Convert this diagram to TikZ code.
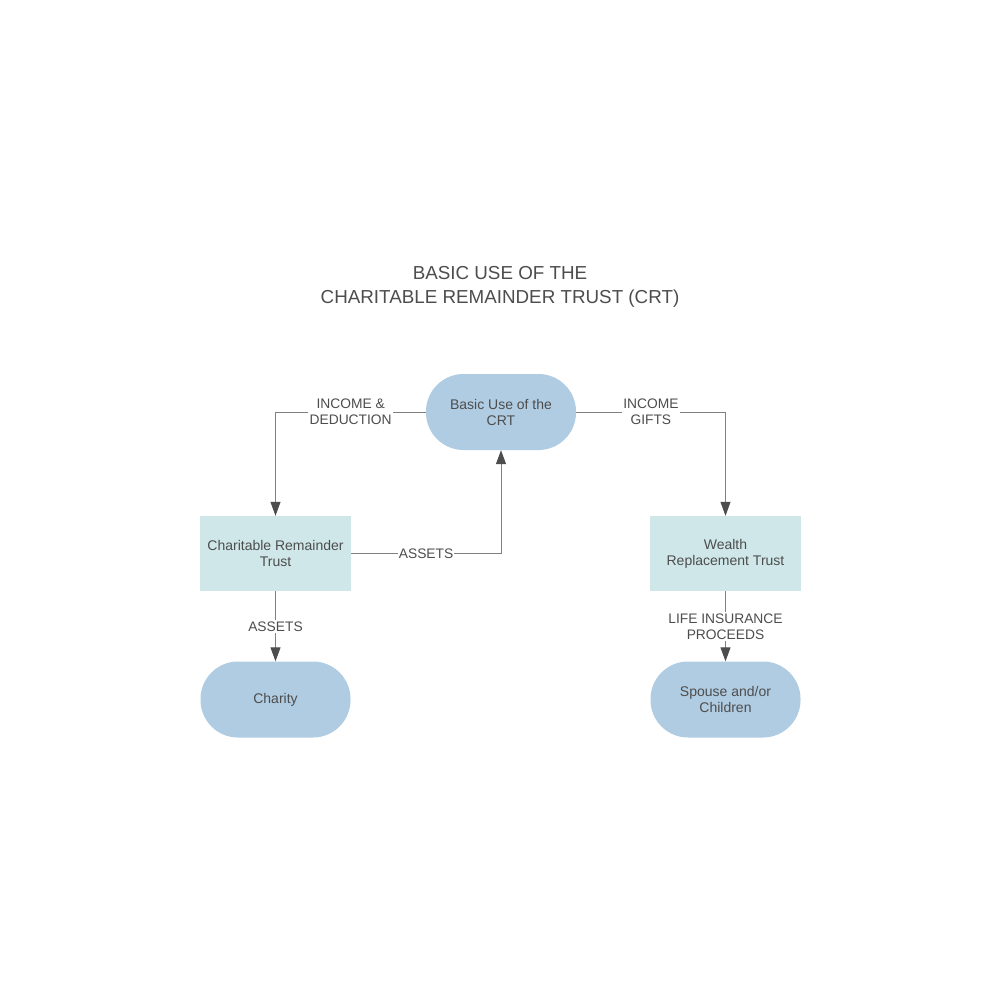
\documentclass[tikz,border=0pt]{standalone}
\usepackage{fontspec}
\setmainfont{Liberation Sans}
\usetikzlibrary{arrows.meta,positioning}
\definecolor{pillc}{HTML}{B0CCE2}
\definecolor{rectc}{HTML}{CFE7E9}
\definecolor{txtc}{HTML}{4D4D4D}
\definecolor{linec}{HTML}{808080}
\begin{document}
\begin{tikzpicture}[x=1pt,y=-1pt,
  pill/.style={fill=pillc, draw=none, rounded corners=37.5pt, minimum width=150pt, minimum height=76pt, align=center, text=txtc, font=\fontsize{14}{16}\selectfont, inner sep=0pt},
  boxr/.style={fill=rectc, draw=none, minimum width=151pt, minimum height=75pt, align=center, text=txtc, font=\fontsize{14}{16}\selectfont, inner sep=0pt},
  conn/.style={draw=linec, line width=1pt, arrows={-{Triangle[length=14pt,width=10pt,color=txtc]}}},
  lbl/.style={fill=white, text=txtc, font=\fontsize{13.8}{16}\selectfont, align=center, inner sep=1.5pt}
]
\useasboundingbox (0,0) rectangle (1000,1000);
\fill[white] (0,0) rectangle (1000,1000);
\node[text=txtc, font=\fontsize{18.8}{24}\selectfont, align=center] (title) at (500,287) {BASIC USE OF THE\\CHARITABLE REMAINDER TRUST (CRT)};

\node[pill] (basic) at (501,412) {Basic Use of the\\CRT};
\node[boxr] (crt) at (275.5,553.5) {Charitable Remainder\\Trust};
\node[pill] (charity) at (275.5,699.5) {Charity};
\node[boxr] (wrt) at (725.5,553.5) {Wealth\\Replacement Trust};
\node[pill] (spouse) at (725.5,699.5) {Spouse and/or\\Children};

\draw[conn] (basic.west) -| node[lbl, pos=0.25] {INCOME \&\\DEDUCTION} (crt.north);
\draw[conn] (basic.east) -| node[lbl, pos=0.25] {INCOME\\GIFTS} (wrt.north);
\draw[conn] (crt.east) -| node[lbl, pos=0.25, inner sep=0.5pt] {ASSETS} (basic.south);
\draw[conn] (crt.south) -- node[lbl] {ASSETS} (charity.north);
\draw[conn] (wrt.south) -- node[lbl] {LIFE INSURANCE\\PROCEEDS} (spouse.north);
\end{tikzpicture}
\end{document}
